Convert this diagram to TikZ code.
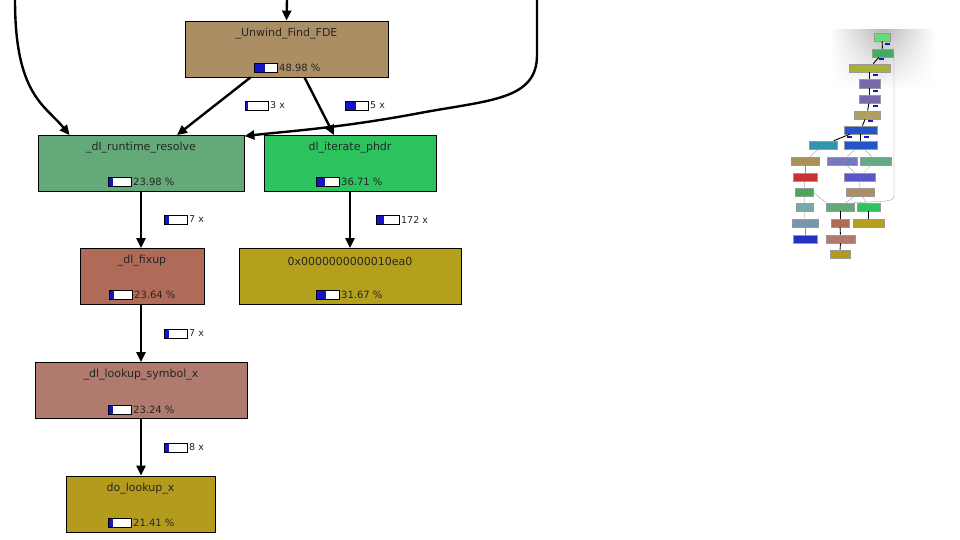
\documentclass[tikz,border=0pt]{standalone}
\usepackage{fontspec}
\setmainfont{DejaVu Sans}
\usetikzlibrary{arrows.meta,fadings}
\definecolor{cUnw}{RGB}{172,142,100}
\definecolor{cRes}{RGB}{100,170,120}
\definecolor{cIter}{RGB}{45,196,95}
\definecolor{cFix}{RGB}{176,106,88}
\definecolor{cHex}{RGB}{180,160,28}
\definecolor{cLook}{RGB}{176,122,110}
\definecolor{cDo}{RGB}{180,155,30}
\definecolor{barblue}{RGB}{20,20,200}
\definecolor{mA}{RGB}{100,220,120}
\definecolor{mB}{RGB}{70,170,100}
\definecolor{mC}{RGB}{170,176,50}
\definecolor{mD}{RGB}{120,105,175}
\definecolor{mE}{RGB}{175,160,95}
\definecolor{mF}{RGB}{35,85,200}
\definecolor{mG}{RGB}{50,150,170}
\definecolor{mH}{RGB}{170,145,85}
\definecolor{mI}{RGB}{120,120,190}
\definecolor{mJ}{RGB}{100,170,135}
\definecolor{mK}{RGB}{200,50,50}
\definecolor{mL}{RGB}{90,85,200}
\definecolor{mM}{RGB}{70,170,85}
\definecolor{mN}{RGB}{120,170,170}
\definecolor{mO}{RGB}{120,150,170}
\definecolor{mP}{RGB}{35,50,190}
\tikzfading[name=hfade, left color=transparent!100, right color=transparent!100, middle color=transparent!0]
\tikzset{
  fn/.style={draw=black, line width=0.8pt, inner sep=0pt, minimum height=56pt},
  ttl/.style={font=\fontsize{11}{13}\selectfont, text=black!85, inner sep=0pt},
  pct/.style={font=\fontsize{10}{12}\selectfont, text=black!85, anchor=west, inner sep=0pt},
  ept/.style={font=\fontsize{9.5}{11}\selectfont, text=black!85, anchor=west, inner sep=0pt},
  arr/.style={line width=2.4pt, -{Triangle[length=10pt,width=9pt]}},
  mini/.style={inner sep=0pt, draw=black!40, line width=0.2pt, minimum height=8.5pt},
  medge/.style={draw=black!45, line width=0.3pt},
  mbold/.style={draw=black, line width=0.9pt},
}
\newcommand\gbar[5]{%
  \fill[white] (#1,#2) rectangle ++(23,9);
  \fill[barblue] (#1,#2) rectangle ++(#3,9);
  \draw[black, line width=0.6pt] (#1,#2) rectangle ++(23,9);
  \node[#5] at (#1+25,#2+4.5) {#4};
}
\newcommand\mnode[4]{\node[mini, fill=#4, minimum width=#3pt] (#1) at (#2) {};}
\begin{document}
\begin{tikzpicture}[x=1pt,y=-1pt]
\useasboundingbox (0,0) rectangle (960,540);
\fill[white] (0,0) rectangle (960,540);

% ---------- main nodes ----------
\node[fn, fill=cUnw, minimum width=203pt] (unw) at (286.5,49) {};
\node[fn, fill=cRes, minimum width=206pt] (res) at (141,163.5) {};
\node[fn, fill=cIter, minimum width=172pt] (iter) at (350,163.5) {};
\node[fn, fill=cFix, minimum width=124pt] (fix) at (142,276.5) {};
\node[fn, fill=cHex, minimum width=222pt] (hex) at (350,276.5) {};
\node[fn, fill=cLook, minimum width=212pt] (look) at (141,390.5) {};
\node[fn, fill=cDo, minimum width=149pt] (dol) at (140.5,504) {};

\node[ttl] at ([yshift=-13pt]unw.north) {\_Unwind\_Find\_FDE};
\node[ttl] at ([yshift=-13pt]res.north) {\_dl\_runtime\_resolve};
\node[ttl] at ([yshift=-13pt]iter.north) {dl\_iterate\_phdr};
\node[ttl] at ([yshift=-13pt]fix.north) {\_dl\_fixup};
\node[ttl] at ([yshift=-13pt]hex.north) {0x0000000000010ea0};
\node[ttl] at ([yshift=-13pt]look.north) {\_dl\_lookup\_symbol\_x};
\node[ttl] at ([yshift=-13pt]dol.north) {do\_lookup\_x};

\gbar{254}{63}{11}{48.98 \%}{pct}
\gbar{108}{177}{5}{23.98 \%}{pct}
\gbar{316}{177}{9}{36.71 \%}{pct}
\gbar{109}{290}{5}{23.64 \%}{pct}
\gbar{316}{290}{10}{31.67 \%}{pct}
\gbar{108}{405}{5}{23.24 \%}{pct}
\gbar{108}{518}{5}{21.41 \%}{pct}

% ---------- connectors ----------
\coordinate (topin) at (287,0);
\coordinate (leftin) at (15,0);
\coordinate (rightin) at (537,0);
\draw[arr] (topin) -- (unw.north);
\draw[arr] (leftin) .. controls (15,95) and (45,105) .. ([xshift=32pt]res.north west);
\draw[arr] (rightin) -- (537,55) .. controls (537,100) and (490,100) .. (420,113)
  .. controls (340,128) and (290,131) .. ([yshift=-1pt]res.north east);
\draw[arr] ([xshift=-36pt]unw.south) -- ([xshift=36pt]res.north);
\draw[arr] ([xshift=18pt]unw.south) -- ([xshift=-16pt]iter.north);
\draw[arr] (res.south) -- (res.south |- fix.north);
\draw[arr] (iter.south) -- (hex.north);
\draw[arr] (fix.south -| res.south) -- (res.south |- look.north);
\draw[arr] (look.south) -- (look.south |- dol.north);

\gbar{245}{101}{3}{3 x}{ept}
\gbar{345}{101}{11}{5 x}{ept}
\gbar{164}{215}{5}{7 x}{ept}
\gbar{376}{215}{8}{172 x}{ept}
\gbar{164}{329}{5}{7 x}{ept}
\gbar{164}{443}{5}{8 x}{ept}

% ---------- minimap ----------
\shade[top color=gray!55, bottom color=white, path fading=hfade] (830,30) rectangle (935,90);
\mnode{m1}{882,37}{16}{mA}
\mnode{m2}{882.5,53}{21}{mB}
\mnode{m3}{869.5,68}{41}{mC}
\mnode{m4}{869.5,83.5}{21}{mD}
\mnode{m5}{869.5,99}{21}{mD}
\mnode{m6}{867,115}{26}{mE}
\mnode{m7}{860.5,130}{33}{mF}
\mnode{m8}{823,145}{28}{mG}
\mnode{m9}{860.5,145}{33}{mF}
\mnode{m10}{805,161}{28}{mH}
\mnode{m11}{842,161}{30}{mI}
\mnode{m12}{875.5,161}{31}{mJ}
\mnode{m13}{805,177}{24}{mK}
\mnode{m14}{859.5,177}{31}{mL}
\mnode{m15}{804,192}{18}{mM}
\mnode{m16}{860,192}{28}{cUnw}
\mnode{m17}{804.5,207}{17}{mN}
\mnode{m18}{840,207}{28}{cRes}
\mnode{m19}{868.5,207}{23}{cIter}
\mnode{m20}{805,223}{26}{mO}
\mnode{m21}{840,223}{18}{cFix}
\mnode{m22}{868.5,223}{31}{cHex}
\mnode{m23}{805,239}{24}{mP}
\mnode{m24}{840.5,239}{29}{cLook}
\mnode{m25}{840,254}{20}{cDo}

\draw[mbold] (m1) -- (m2);
\draw[mbold] (m2) -- (m3);
\draw[mbold] (m3) -- (m4);
\draw[mbold] (m4) -- (m5);
\draw[mbold] (m5) -- (m6);
\draw[mbold] (m6) -- (m7);
\draw[mbold] (m7) -- (m8);
\draw[mbold] (m7) -- (m9);
\draw[medge] (m8) -- (m10);
\draw[medge] (m9) -- (m11);
\draw[medge] (m9) -- (m12);
\draw[medge] (m10) -- (m13);
\draw[medge] (m11) -- (m14);
\draw[medge] (m12) -- (m14);
\draw[medge] (m13) -- (m15);
\draw[medge] (m15) -- (m17);
\draw[medge] (m17) -- (m20);
\draw[medge] (m20) -- (m23);
\draw[medge] (m14) -- (m16);
\draw[medge] (m16) -- (m18);
\draw[medge] (m16) -- (m19);
\draw[medge] (m15.east) -- (m18.north west);
\draw[medge] (m2.east) .. controls (894,55) .. (894,65) -- (894,195) .. controls (894,201) .. (m18.north east);
\draw[mbold] (m18) -- (m21);
\draw[mbold] (m19) -- (m22);
\draw[mbold] (m21) -- (m24);
\draw[mbold] (m24) -- (m25);
\foreach \p in {(885,43),(879,58),(873,74),(873,90),(873,105),(868,120),(847,136),(864,136)}
  \fill[barblue] \p rectangle ++(5,2);
\end{tikzpicture}
\end{document}
